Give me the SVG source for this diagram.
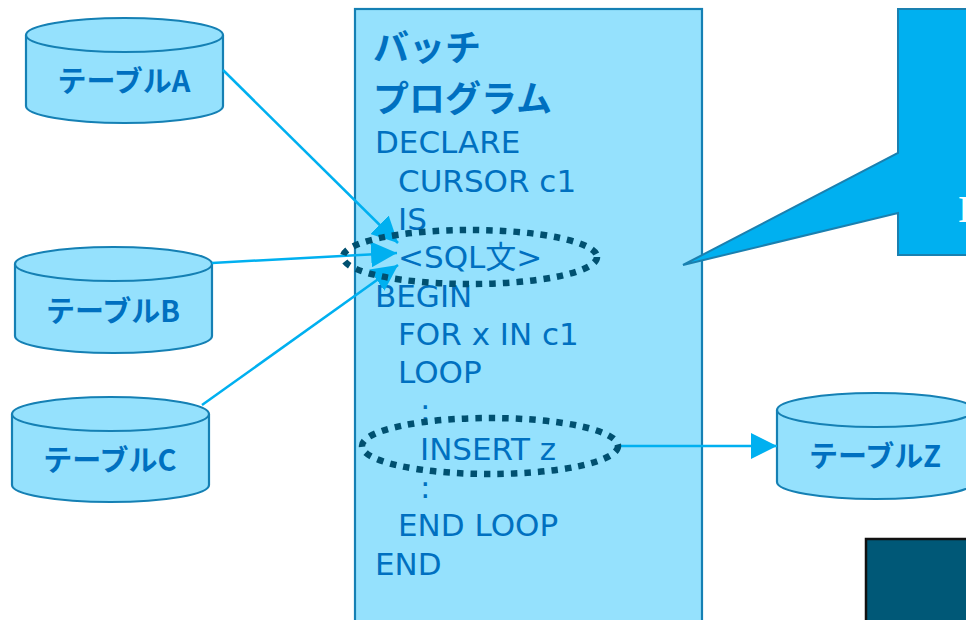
<svg xmlns="http://www.w3.org/2000/svg" width="966" height="620" viewBox="0 0 966 620">
<style>
.cyl{fill:#95e1fd;stroke:#1580b4;stroke-width:2.2}
.lbl{font-family:"Noto Sans CJK JP","Noto Sans",sans-serif;font-weight:700;font-size:29px;fill:#0070c0;text-anchor:middle}
.title{font-family:"Noto Sans CJK JP","Noto Sans",sans-serif;font-weight:700;font-size:36px;fill:#0070c0}
.code{font-family:"DejaVu Sans","Noto Sans CJK JP",sans-serif;font-size:31px;fill:#0070c0}
.conn{stroke:#00b0f0;stroke-width:2.5;fill:none}
.dot{fill:none;stroke:#005070;stroke-width:6.5;stroke-dasharray:6.5 7}
</style>
<defs>
<marker id="arr" markerUnits="userSpaceOnUse" markerWidth="26" markerHeight="26" viewBox="0 0 26 26" refX="26" refY="13" orient="auto">
<path d="M0,0 L26,13 L0,26 z" fill="#00b0f0"/>
</marker>
</defs>
<rect width="966" height="620" fill="#ffffff"/>

<g id="darkbox">
<rect x="866" y="539" width="110" height="90" fill="#005877" stroke="#111111" stroke-width="2.5"/>
</g>

<g id="batch">
<rect x="355" y="9" width="347" height="620" fill="#95e1fd" stroke="#1580b4" stroke-width="2.2"/>
<text class="title" x="373" y="61">バッチ</text>
<text class="title" x="373" y="112">プログラム</text>
<text class="code" x="375" y="153">DECLARE</text>
<text class="code" x="398" y="191.5">CURSOR c1</text>
<text class="code" x="398" y="230">IS</text>
<text class="code" x="398" y="268">&lt;SQL文&gt;</text>
<text class="code" x="375" y="306.5">BEGIN</text>
<text class="code" x="398" y="345">FOR x IN c1</text>
<text class="code" x="398" y="383">LOOP</text>
<text class="code" x="420" y="421">:</text>
<text class="code" x="420" y="460">INSERT z</text>
<text class="code" x="420" y="498">:</text>
<text class="code" x="398" y="536">END LOOP</text>
<text class="code" x="375" y="575">END</text>
</g>

<g id="callout">
<path d="M898,9 H972 V255 H898 V213 L683,265 L898,153 Z" fill="#00b0f0" stroke="#1a80b0" stroke-width="2"/>
<text x="958" y="222" font-family="Liberation Serif,serif" font-weight="700" font-size="38" fill="#ffffff">I</text>
</g>

<g id="tableA">
<path class="cyl" d="M26,35 V106 A98.5,17 0 0 0 223,106 V35"/>
<ellipse class="cyl" cx="124.5" cy="35" rx="98.5" ry="17"/>
<text class="lbl" x="124" y="92">テーブルA</text>
</g>
<g id="tableB">
<path class="cyl" d="M15,264 V336 A98.5,17 0 0 0 212,336 V264"/>
<ellipse class="cyl" cx="113.5" cy="264" rx="98.5" ry="17"/>
<text class="lbl" x="113" y="322">テーブルB</text>
</g>
<g id="tableC">
<path class="cyl" d="M12,414 V485 A98.5,17 0 0 0 209,485 V414"/>
<ellipse class="cyl" cx="110.5" cy="414" rx="98.5" ry="17"/>
<text class="lbl" x="110" y="471">テーブルC</text>
</g>
<g id="tableZ">
<path class="cyl" d="M777,410 V482 A98.5,17 0 0 0 974,482 V410"/>
<ellipse class="cyl" cx="875.5" cy="410" rx="98.5" ry="17"/>
<text class="lbl" x="875" y="467">テーブルZ</text>
</g>

<g id="connectors">
<line class="conn" x1="223" y1="70" x2="398" y2="243" marker-end="url(#arr)"/>
<line class="conn" x1="212" y1="263" x2="397" y2="253" marker-end="url(#arr)"/>
<line class="conn" x1="202" y1="405" x2="398" y2="265" marker-end="url(#arr)"/>
<line class="conn" x1="620" y1="446" x2="777" y2="446" marker-end="url(#arr)"/>
</g>

<g id="highlights">
<ellipse class="dot" cx="470" cy="257" rx="127" ry="27"/>
<ellipse class="dot" cx="490" cy="446" rx="128" ry="28"/>
</g>
</svg>
